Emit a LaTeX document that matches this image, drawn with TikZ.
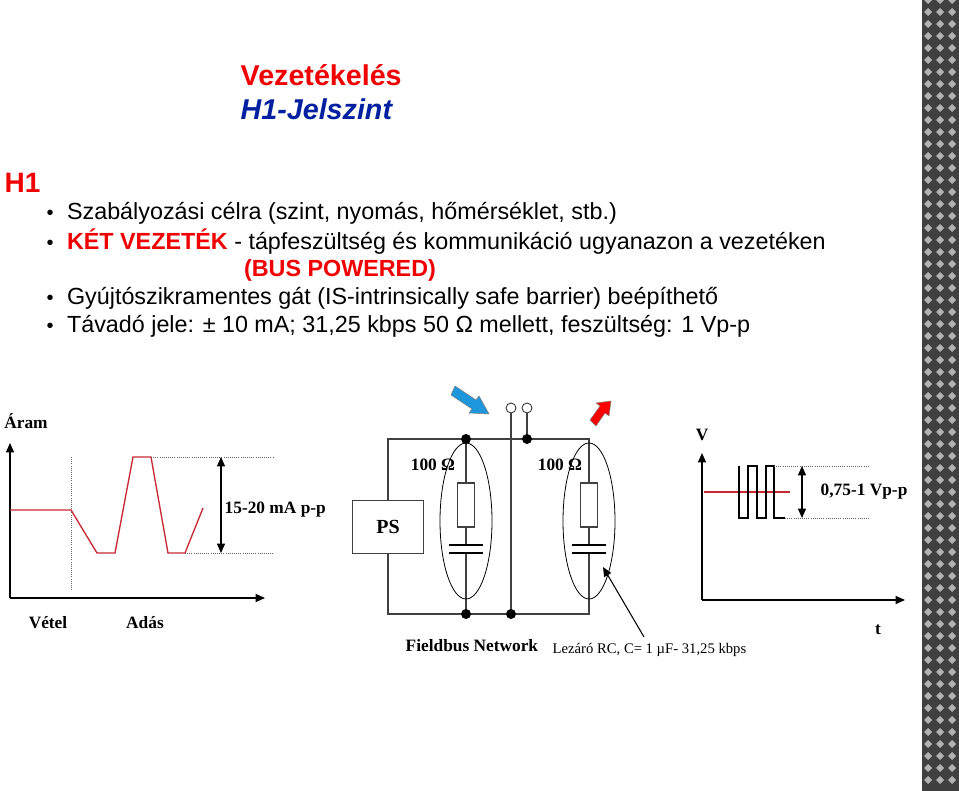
\documentclass[tikz,border=0pt]{standalone}
\usepackage{fontspec}
\setmainfont{Liberation Serif}
\newfontfamily\arial{Liberation Sans}
\usetikzlibrary{arrows.meta, shapes.geometric}
\definecolor{titlered}{RGB}{240,0,0}
\definecolor{titleblue}{RGB}{0,32,160}
\definecolor{signalred}{RGB}{200,40,50}
\tikzset{
  bullet/.style={anchor=west, font=\arial\fontsize{17.5}{20}\selectfont},
  lbl/.style={font=\bfseries\fontsize{13}{15}\selectfont},
  wire/.style={draw=black!75, line width=0.8pt},
  junction/.style={circle, fill=black, inner sep=0pt, minimum size=7.5pt},
  terminal/.style={circle, draw=black!75, line width=0.7pt, fill=white, inner sep=0pt, minimum size=7.5pt},
  guide/.style={densely dotted, black!60, line width=0.6pt},
  axis/.style={-{Triangle[length=7pt,width=6pt]}, line width=1pt}
}
\newcommand{\bul}{{\fontsize{15}{16}\selectfont\textbullet}\hspace{10pt}}
\newcommand{\hl}[1]{\textcolor{titlered}{\bfseries #1}}
\begin{document}
\begin{tikzpicture}[x=0.75pt, y=-0.75pt]
    \useasboundingbox (0,0) rectangle (959,791);
    % decorative strip
    \fill[black!75] (922,0) rectangle (959,791);
    \foreach \yy in {0,12,...,790} {
      \foreach \xx in {928,940,952} {
        \fill[black!30] (\xx,\yy-4) -- (\xx+4,\yy) -- (\xx,\yy+4) -- (\xx-4,\yy) -- cycle;
      }
    }
    % Title
    \node[anchor=west, font=\arial\bfseries\fontsize{21.5}{24}\selectfont, text=titlered] (title) at (236,75) {Vezetékelés};
    \node[anchor=west, font=\arial\bfseries\itshape\fontsize{21.5}{24}\selectfont, text=titleblue] (subtitle) at (236,109) {H1-Jelszint};
    \node[anchor=west, font=\arial\bfseries\fontsize{21}{24}\selectfont, text=titlered] (hone) at (0,183) {H1};
    % Bullets
    \node[bullet] (b1) at (42,213) {\bul Szabályozási célra (szint, nyomás, hőmérséklet, stb.)};
    \node[bullet] (b2) at (42,242) {\bul\hl{KÉT VEZETÉK} - tápfeszültség és kommunikáció ugyanazon a vezetéken};
    \node[bullet, anchor=center] (b2b) at (340,270) {\hl{(BUS POWERED)}};
    \node[bullet] (b3) at (42,298) {\bul Gyújtószikramentes gát (IS-intrinsically safe barrier) beépíthető};
    \node[bullet] (b4) at (42,326) {\bul Távadó jele: ± 10 mA; 31,25 kbps 50 Ω mellett, feszültség: 1 Vp-p};

    % Current graph
    \coordinate (aorig) at (10,598);
    \draw[axis] (aorig) -- (10,443);
    \draw[axis] (aorig) -- (265,598);
    \node[lbl] (aram) at (26,421) {Áram};
    \node[lbl] (vetel) at (48,623) {Vétel};
    \node[lbl] (adas) at (145,623) {Adás};
    \draw[guide] (71,457) -- (71,590);
    \draw[signalred, line width=1pt] (10,510) -- (71,510) -- (97,553) -- (115,553) -- (133,457) -- (151,457) -- (168,553) -- (185,553) -- (203,508);
    \draw[guide] (151,457) -- (273,457);
    \draw[guide] (185,553) -- (273,553);
    \coordinate (itop) at (221,457);
    \coordinate (ibot) at (221,553);
    \draw[{Triangle[length=7pt,width=6pt]}-{Triangle[length=7pt,width=6pt]}, line width=1pt] (itop) -- (ibot);
    \node[lbl, anchor=west] (ipp) at (220,510) {15-20 mA p-p};

    % Circuit
    \node[draw=black!75, line width=0.8pt, minimum width=53pt, minimum height=40pt, font=\bfseries\fontsize{15}{17}\selectfont] (ps) at (388,527) {PS};
    \coordinate (tl) at (388,439);
    \coordinate (bl) at (388,614);
    \coordinate (tr) at (589,439);
    \coordinate (br) at (589,614);
    \draw[wire] (ps.north) -- (tl) -- (tr) -- (br) -- (bl) -- (ps.south);
    \node[terminal] (t1) at (511,408) {};
    \node[terminal] (t2) at (527,408) {};
    \draw[wire] (511,614) -- (t1);
    \draw[wire] (527,439) -- (t2);
    \draw[wire] (466,439) -- (466,614);
    \foreach \bx/\nm in {466/ra, 589/rb} {
      \draw[wire, fill=white] (\bx-8.5,483) rectangle (\bx+8.5,527);
      \fill[white] (\bx-18,546) rectangle (\bx+18,552);
      \draw[black, line width=2pt] (\bx-17,545) -- (\bx+17,545);
      \draw[black, line width=2pt] (\bx-17,553) -- (\bx+17,553);
      \node[draw, ellipse, line width=0.6pt, minimum width=39pt, minimum height=117pt] (\nm) at (\bx,521) {};
    }
    \node[junction] (j1t) at (466,439) {};
    \node[junction] (j1b) at (466,614) {};
    \node[junction] (jmb) at (511,614) {};
    \node[junction] (j2t) at (527,439) {};
    \node[lbl] (ohma) at (433,465) {100 Ω};
    \node[lbl] (ohmb) at (560,465) {100 Ω};
    \draw[fill={rgb,255:red,30;green,150;blue,220}, draw=black!50] (455,386) -- (476,400) -- (479,396) -- (489,414) -- (469,413) -- (472,409) -- (451,395) -- cycle;
    \draw[fill=red, draw=black!50] (590,420) -- (600,406) -- (596,403) -- (611,401) -- (609,416) -- (605,413) -- (596,426) -- cycle;
    \node[lbl, anchor=west] (fnet) at (401,646) {Fieldbus Network};
    \node[anchor=west, font=\fontsize{11}{13}\selectfont] (rcnote) at (548,650) {Lezáró RC, C= 1 µF- 31,25 kbps};
    \draw[-{Triangle[length=7pt,width=6pt]}, line width=0.8pt] (644,637) -- (603,567);

    % Voltage graph
    \coordinate (vorig) at (702,600);
    \draw[axis] (vorig) -- (702,453);
    \draw[axis] (vorig) -- (905,600);
    \node[lbl] (vlab) at (702,435) {V};
    \node[lbl] (tlab) at (878,630) {t};
    \draw[signalred, line width=0.8pt] (704,492) -- (790,492);
    \draw[line width=0.8pt] (739,466) -- (739,518) -- (748,518) -- (748,466) -- (757,466) -- (757,518) -- (766,518) -- (766,466) -- (774,466) -- (774,518) -- (785,518);
    \draw[guide] (774,466) -- (870,466);
    \draw[guide] (785,518) -- (870,518);
    \draw[{Triangle[length=7pt,width=6pt]}-{Triangle[length=7pt,width=6pt]}, line width=1pt] (802,466) -- (802,518);
    \node[lbl, anchor=west] (vpp) at (816,492) {0,75-1 Vp-p};
\end{tikzpicture}
\end{document}
